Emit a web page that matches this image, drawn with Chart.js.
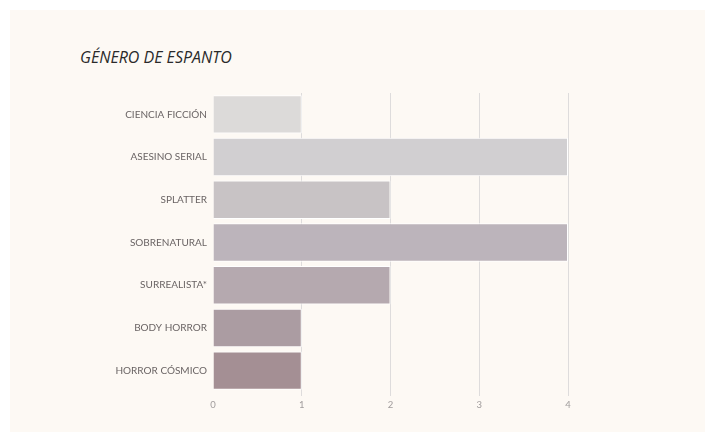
<!DOCTYPE html>
<html>
<head>
<meta charset="utf-8">
<script src="https://cdn.jsdelivr.net/npm/chart.js@4/dist/chart.umd.min.js"></script>
<style>
    html, body { margin: 0; padding: 0; background: #ffffff; }
    #wrap { position: relative; width: 705px; height: 432px; overflow: hidden; }
    #panel { position: absolute; left: 10px; top: 10px; right: 0; bottom: 0; background: #fdf9f4; }
    #title { position: absolute; left: 80px; top: 46px; font-family: 'Open Sans', sans-serif; font-style: italic; font-size: 16px; color: #2a2a2a; }
    #c { position: absolute; left: 0; top: 0; }
</style>
</head>
<body>
<div id="wrap">
    <div id="panel"></div>
    <div id="title">GÉNERO DE ESPANTO</div>
    <canvas id="c" width="705" height="432"></canvas>
</div>
<script>
// ===== Género de espanto =====
const categories = ['CIENCIA FICCIÓN', 'ASESINO SERIAL', 'SPLATTER', 'SOBRENATURAL', 'SURREALISTA*', 'BODY HORROR', 'HORROR CÓSMICO'];
const counts = [1, 4, 2, 4, 2, 1, 1];
const barColors = ['#dcdad9', '#d1cfd1', '#c8c3c5', '#bcb4bb', '#b5a9af', '#ab9ca2', '#a48f94'];
const xTicks = [0, 1, 2, 3, 4];

const chart = new Chart(document.getElementById('c'), {
    type: 'bar',
    data: {
        labels: categories,
        datasets: [{
            data: counts,
            backgroundColor: barColors,
            borderColor: '#ffffff',
            borderWidth: { top: 1, bottom: 1, left: 0, right: 1 },
            borderSkipped: 'left',
            barPercentage: 0.9,
            categoryPercentage: 1
        }]
    },
    options: {
        indexAxis: 'y',
        responsive: false,
        animation: false,
        layout: { padding: { left: 0, right: 137, top: 93, bottom: 0 } },
        plugins: {
            legend: { display: false },
            tooltip: { enabled: false }
        },
        scales: {
            x: {
                min: 0, max: 4,
                afterFit: s => { s.height = 40; },
                afterBuildTicks: s => { s.ticks = xTicks.map(v => ({ value: v })); },
                border: { display: false },
                grid: { color: ctx => ctx.tick && ctx.tick.value === 0 ? 'rgba(0,0,0,0)' : '#dedcdc', lineWidth: 1, tickLength: 4 },
                ticks: { color: '#a09c9c', font: { family: 'Lato', size: 9.5 }, padding: 3 }
            },
            y: {
                afterFit: s => { s.width = 213; },
                border: { display: false },
                grid: { display: false, drawTicks: false },
                ticks: { color: '#6a6464', font: { family: 'Lato', size: 10 }, padding: 6 }
            }
        }
    }
});
</script>
</body>
</html>
